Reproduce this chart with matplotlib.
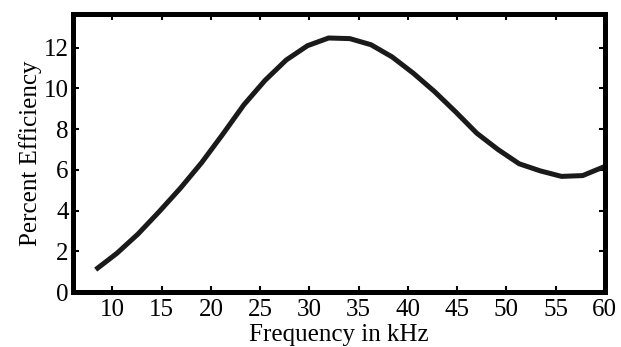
import numpy as np
import matplotlib.pyplot as plt

plt.rcParams['font.family'] = ['Liberation Serif', 'DejaVu Serif']

# data
freq_khz = [8.3, 10.45, 12.6, 14.75, 16.9, 19.05, 21.2, 23.35, 25.5, 27.65,
            29.8, 31.95, 34.1, 36.25, 38.4, 40.55, 42.7, 44.85, 47.0, 49.15,
            51.3, 53.45, 55.6, 57.75, 59.9]
efficiency = [1.1, 1.9, 2.85, 3.95, 5.1, 6.35, 7.75, 9.2, 10.4, 11.4,
              12.1, 12.48, 12.45, 12.15, 11.55, 10.75, 9.85, 8.85, 7.8, 7.0,
              6.3, 5.95, 5.68, 5.72, 6.15]
xticks = [10, 15, 20, 25, 30, 35, 40, 45, 50, 55, 60]
yticks = [0, 2, 4, 6, 8, 10, 12]

fig = plt.figure(figsize=(6.21, 3.47), dpi=100)
ax = fig.add_axes([0.1176, 0.1585, 0.8564, 0.8012])

ax.plot(freq_khz, efficiency, color='#1a1a1a', linewidth=3.6, solid_capstyle='butt')

ax.set_xlim(6, 60)
ax.set_ylim(0, 13.66)
ax.set_xticks(xticks)
ax.set_yticks(yticks)
ax.tick_params(direction='in', length=4, width=1.5, top=True, right=True,
               labelsize=18, pad=3)
ax.tick_params(axis='x', pad=5)
for s in ax.spines.values():
    s.set_linewidth(3.6)
    s.set_color('black')

ax.set_xlabel("Frequency in kHz", fontsize=18, labelpad=2)
ax.set_ylabel("Percent Efficiency", fontsize=18, labelpad=1)

fig.savefig("out.png", dpi=100)
